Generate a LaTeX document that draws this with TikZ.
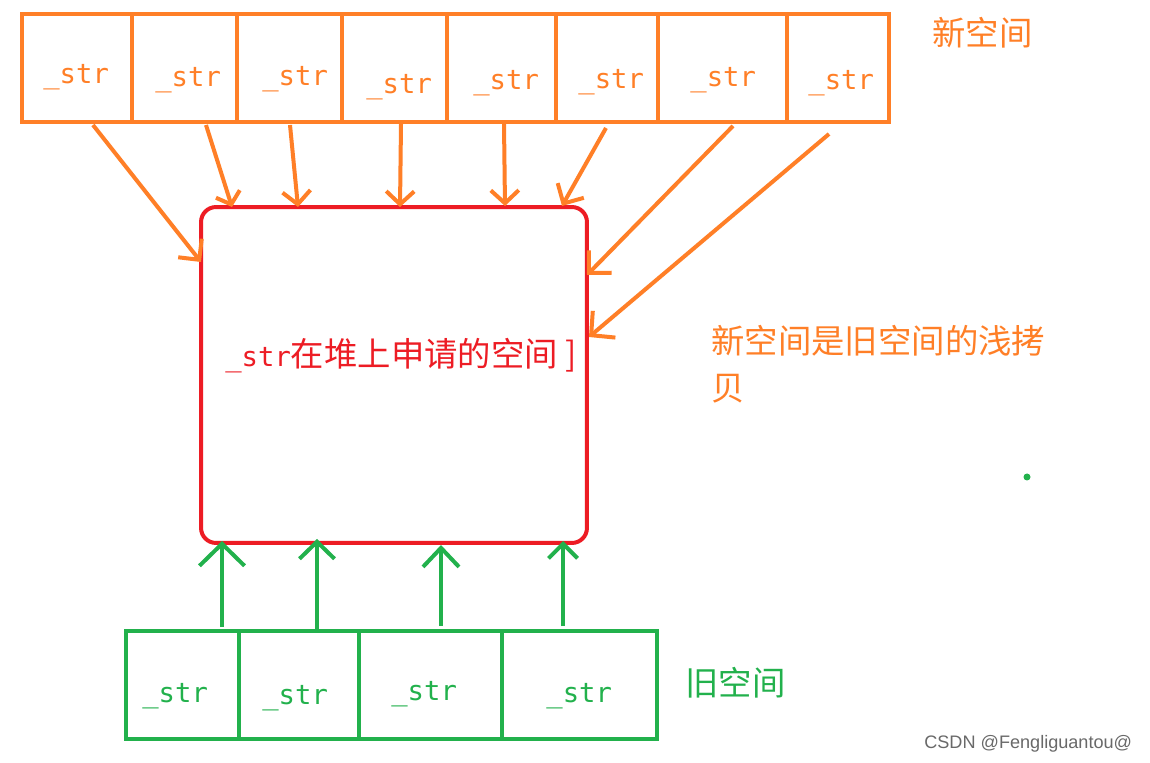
\documentclass[tikz,border=0pt]{standalone}
\usepackage{fontspec}
\setmainfont{Liberation Sans}
\newfontfamily\cjk{Noto Sans CJK SC}
\newfontfamily\monof{DejaVu Sans Mono}
\usetikzlibrary{arrows.meta}
\definecolor{porange}{RGB}{255,127,39}
\definecolor{pred}{RGB}{237,28,36}
\definecolor{pgreen}{RGB}{34,177,76}
\definecolor{wmgray}{RGB}{105,105,105}
\begin{document}
\begin{tikzpicture}[x=0.02cm,y=-0.02cm,
  lw/.style={line width=0.08cm},
  ocell/.style={draw=porange, lw, rectangle, inner sep=0pt, minimum height=2.16cm},
  gcell/.style={draw=pgreen, lw, rectangle, inner sep=0pt, minimum height=2.16cm},
  strlab/.style={font=\monof\fontsize{15.5}{18}\selectfont, anchor=base west, inner sep=0pt},
  cjklab/.style={font=\cjk\fontsize{19}{26.6}\selectfont, anchor=base west, inner sep=0pt},
  oarrow/.style 2 args={draw=porange, lw, -{Straight Barb[length=#1,width=#2]}},
  garrow/.style 2 args={draw=pgreen, lw, -{Straight Barb[length=#1,width=#2]}}
]
\fill[white] (0,0) rectangle (1150,763);
\useasboundingbox (0,0) rectangle (1150,763);

% heap block
\node[draw=pred, lw, rounded corners=0.3cm, minimum width=7.72cm, minimum height=6.72cm] (heap) at (394,375) {};
\node[anchor=base west, inner sep=0pt, text=pred] (heaplabel) at (225,367)
  {{\monof\fontsize{15.5}{18}\selectfont\_str}{\cjk\fontsize{19}{26.6}\selectfont 在堆上申请的空间 ]}};

% new space cells
\node[ocell, minimum width=2.2cm]  (c1) at (77,68) {};
\node[ocell, minimum width=2.1cm]  (c2) at (184.5,68) {};
\node[ocell, minimum width=2.1cm]  (c3) at (289.5,68) {};
\node[ocell, minimum width=2.1cm]  (c4) at (394.5,68) {};
\node[ocell, minimum width=2.18cm] (c5) at (501.5,68) {};
\node[ocell, minimum width=2.04cm] (c6) at (607,68) {};
\node[ocell, minimum width=2.58cm] (c7) at (722.5,68) {};
\node[ocell, minimum width=2.04cm] (c8) at (838,68) {};
\node[strlab, text=porange] (t1) at (43,84) {\_str};
\node[strlab, text=porange] (t2) at (155,87) {\_str};
\node[strlab, text=porange] (t3) at (262,86) {\_str};
\node[strlab, text=porange] (t4) at (366,94) {\_str};
\node[strlab, text=porange] (t5) at (473,90) {\_str};
\node[strlab, text=porange] (t6) at (578,89) {\_str};
\node[strlab, text=porange] (t7) at (690,87) {\_str};
\node[strlab, text=porange] (t8) at (808,90) {\_str};
\node[cjklab, text=porange] (newlab) at (932,46) {新空间};

% old space cells
\node[gcell, minimum width=2.26cm] (g1) at (182.5,685) {};
\node[gcell, minimum width=2.4cm]  (g2) at (299,685) {};
\node[gcell, minimum width=2.86cm] (g3) at (430.5,685) {};
\node[gcell, minimum width=3.1cm]  (g4) at (579.5,685) {};
\node[strlab, text=pgreen] (u1) at (142,702) {\_str};
\node[strlab, text=pgreen] (u2) at (262,704) {\_str};
\node[strlab, text=pgreen] (u3) at (391,700) {\_str};
\node[strlab, text=pgreen] (u4) at (546,702) {\_str};
\node[cjklab, text=pgreen] (oldlab) at (685,695) {旧空间};

% note
\node[font=\cjk\fontsize{19}{26.6}\selectfont, text=porange, align=left, anchor=north west, inner sep=0pt] (note) at (711,325) {新空间是旧空间的浅拷\\贝};

% arrow end points
\coordinate (o1s) at (93,125);  \coordinate (o1t) at (201,262);
\coordinate (o2s) at (206,125); \coordinate (o2t) at (232,207);
\coordinate (o3s) at (290,125); \coordinate (o3t) at (298,207);
\coordinate (o4s) at (401,124); \coordinate (o4t) at (400,207);
\coordinate (o5s) at (504,124); \coordinate (o5t) at (505,206);
\coordinate (o6s) at (606,128); \coordinate (o6t) at (562,206);
\coordinate (o7s) at (733,126); \coordinate (o7t) at (587,275);
\coordinate (o8s) at (829,134); \coordinate (o8t) at (589,337);

\draw[oarrow={0.3cm}{0.6cm}]  (o1s) -- (o1t);
\draw[oarrow={0.22cm}{0.5cm}] (o2s) -- (o2t);
\draw[oarrow={0.26cm}{0.56cm}] (o3s) -- (o3t);
\draw[oarrow={0.26cm}{0.56cm}] (o4s) -- (o4t);
\draw[oarrow={0.26cm}{0.56cm}] (o5s) -- (o5t);
\draw[oarrow={0.3cm}{0.6cm}]  (o6s) -- (o6t);
\draw[oarrow={0.32cm}{0.64cm}] (o7s) -- (o7t);
\draw[oarrow={0.34cm}{0.7cm}] (o8s) -- (o8t);

\coordinate (g1s) at (222,627); \coordinate (g1t) at (222,541);
\coordinate (g2s) at (317,631); \coordinate (g2t) at (317,539);
\coordinate (g3s) at (441,626); \coordinate (g3t) at (441,545);
\coordinate (g4s) at (563,626); \coordinate (g4t) at (563,541);
\draw[garrow={0.44cm}{0.9cm}]  (g1s) -- (g1t);
\draw[garrow={0.34cm}{0.7cm}]  (g2s) -- (g2t);
\draw[garrow={0.38cm}{0.72cm}] (g3s) -- (g3t);
\draw[garrow={0.29cm}{0.58cm}] (g4s) -- (g4t);

% stray dot
\fill[pgreen] (1027,477) circle[radius=3.5];

% watermark
\node[anchor=base west, inner sep=0pt, text=wmgray, font=\fontsize{10.3}{12}\selectfont] (wm) at (924,748) {CSDN @Fengliguantou@};
\end{tikzpicture}
\end{document}
